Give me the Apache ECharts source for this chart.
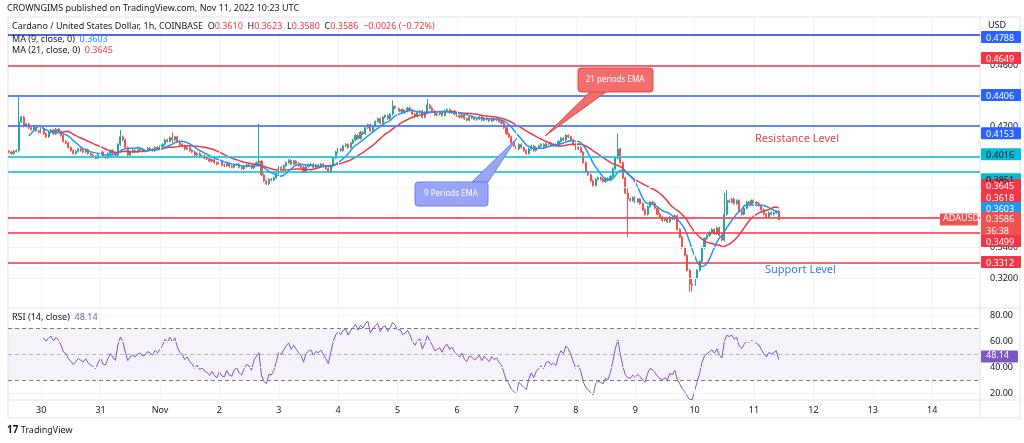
<!DOCTYPE html>
<html>
<head>
<meta charset="utf-8">
<script src="https://cdn.jsdelivr.net/npm/echarts@6/dist/echarts.min.js"></script>
<style>
html,body{margin:0;padding:0;background:#fff;}
#chart{width:1024px;height:443px;}
</style>
</head>
<body>
<div id="chart"></div>
<script>
// hourly closes, first candle = Oct 29 11:00 (x = hours from Oct 30 00:00)
var firstHour = -13;
var firstOpen = 0.4035;
var closes = [
	0.4030,0.4020,0.4035,0.4040,
	0.4230,
	0.4260,0.4200,0.4215,
	0.4190,0.4180,0.4200,0.4170,
	0.4160,0.4185,0.4150,0.4130,0.4160,0.4175,0.4150,0.4180,0.4165,
	0.4140,0.4100,0.4090,0.4060,0.4040,0.4020,0.4035,
	0.4050,0.4040,0.4030,0.4045,0.4020,0.4010,
	0.4000,0.3990,0.4010,0.4030,0.4000,0.3995,0.4020,0.4040,0.4025,0.4010,
	0.4080,0.4130,0.4110,
	0.4060,0.4010,0.4030,
	0.4040,0.4030,0.4045,0.4050,0.4035,0.4040,0.4055,0.4050,0.4040,0.4060,0.4050,0.4065,
	0.4080,0.4110,0.4100,0.4125,0.4110,0.4130,0.4100,
	0.4080,0.4070,0.4050,0.4060,0.4040,0.4030,0.4010,0.4020,0.4000,0.4005,0.3990,
	0.3985,0.3970,0.3980,0.3960,0.3950,0.3965,0.3945,0.3940,0.3955,0.3935,0.3930,0.3945,0.3950,0.3930,0.3920,0.3935,0.3945,0.3940,0.3925,0.3950,0.3960,
	0.3970,
	0.3880,0.3840,0.3820,0.3850,0.3845,0.3860,
	0.3890,0.3930,0.3920,0.3940,
	0.3960,0.3975,0.3950,0.3970,0.3955,
	0.3940,0.3930,0.3900,0.3935,0.3945,0.3950,0.3930,0.3945,0.3940,0.3950,0.3935,0.3920,0.3900,0.3940,
	0.3990,0.4030,0.4050,0.4040,0.4070,0.4080,0.4060,0.4090,
	0.4110,0.4140,0.4120,0.4160,0.4150,0.4190,0.4210,0.4170,0.4200,
	0.4230,0.4250,0.4220,0.4260,0.4270,0.4250,0.4280,
	0.4330,0.4320,0.4300,0.4310,0.4290,0.4300,0.4320,0.4305,
	0.4280,0.4265,0.4290,0.4300,0.4260,0.4290,
	0.4340,0.4320,0.4300,
	0.4275,0.4280,0.4290,0.4270,0.4300,0.4310,0.4290,0.4300,
	0.4280,0.4270,0.4260,0.4275,0.4250,0.4240,0.4260,0.4255,0.4245,0.4250,0.4260,0.4240,0.4255,0.4245,0.4235,0.4250,0.4240,0.4245,0.4230,0.4220,
	0.4190,0.4150,0.4130,0.4090,
	0.4070,0.4050,0.4080,0.4060,0.4040,0.4020,0.4050,0.4070,0.4040,0.4060,
	0.4070,0.4080,0.4065,0.4085,0.4090,0.4075,0.4080,0.4070,0.4100,0.4120,0.4110,0.4140,0.4130,0.4110,
	0.4080,0.4050,0.4060,0.4030,
	0.3960,0.3900,0.3880,
	0.3840,0.3810,0.3850,0.3860,0.3850,0.3835,0.3855,0.3845,0.3870,
	0.3920,0.3990,0.4050,
	0.3960,0.3860,0.3760,0.3720,
	0.3710,0.3730,0.3700,0.3720,0.3690,
	0.3650,0.3620,0.3670,0.3700,0.3690,0.3660,0.3620,0.3600,
	0.3580,0.3590,0.3570,0.3600,0.3590,0.3610,
	0.3520,0.3470,0.3400,0.3350,0.3250,0.3160,0.3150,
	0.3200,0.3250,0.3310,
	0.3400,0.3460,0.3480,0.3500,0.3520,0.3490,0.3530,
	0.3480,0.3450,
	0.3620,0.3710,
	0.3700,0.3720,0.3690,0.3710,
	0.3640,0.3620,
	0.3660,0.3700,0.3690,0.3710,0.3700,0.3690,0.3680,
	0.3650,0.3620,0.3600,0.3630,0.3620,
	0.3630,0.3640,0.3586
];
// long wicks: [candle index, high, low]
var spikes = [
	[4, 0.4406, 0.4030], [45, 0.4175, 0.4070], [66, 0.4160, 0.4090],
	[101, 0.4218, 0.3945], [155, 0.4370, 0.4270], [169, 0.4380, 0.4280],
	[246, 0.4153, 0.3980], [250, 0.3790, 0.3470], [275, 0.3260, 0.3110],
	[276, 0.3200, 0.3110], [289, 0.3760, 0.3440], [290, 0.3780, 0.3610]
];
var wick = 0.0008;

var levelLines = [
	[0.4828, '#f23645'], [0.4788, '#2962ff'], [0.4649, '#f23645'], [0.4406, '#2962ff'],
	[0.4153, '#2962ff'], [0.4016, '#00bcd4'], [0.3851, '#00bcd4'], [0.3618, '#f23645'],
	[0.3499, '#f23645'], [0.3312, '#f23645']
];
// price tags on the right scale: text, price where the tag sits, background, text colour
var priceTags = [
	['0.4788', 0.4788, '#2962ff', '#fff'], ['0.4649', 0.4649, '#f23645', '#fff'],
	['0.4406', 0.4406, '#2962ff', '#fff'], ['0.4153', 0.4153, '#2962ff', '#fff'],
	['0.4016', 0.4016, '#00bcd4', '#131722'], ['0.3851', 0.3851, '#00bcd4', '#131722'],
	['0.3645', 0.3813, '#f23645', '#fff'], ['0.3618', 0.3734, '#f23645', '#fff'],
	['0.3603', 0.3661, '#2196f3', '#fff'], ['0.3586\n36:38', 0.3595, '#f05252', '#fff'],
	['0.3499', 0.3444, '#f23645', '#fff'], ['0.3312', 0.3305, '#f23645', '#fff']
];
var priceGrid = [0.32, 0.34, 0.36, 0.38, 0.40, 0.42, 0.44, 0.46, 0.48];
var priceLabels = [0.32, 0.34, 0.42, 0.46];
var rsiTicks = [20, 40, 60, 80];
var dayHours = [0, 24, 48, 72, 96, 120, 144, 168, 192, 216, 240, 264, 288, 312, 336, 360];
var dayLabels = ['30', '31', 'Nov', '2', '3', '4', '5', '6', '7', '8', '9', '10', '11', '12', '13', '14'];

var candles = [];
var prev = firstOpen;
closes.forEach(function(c, i){
	var hi = Math.max(prev, c) + wick, lo = Math.min(prev, c) - wick;
	spikes.forEach(function(s){ if(s[0] === i){ hi = s[1]; lo = s[2]; } });
	candles.push([firstHour + i, prev, c, lo, hi]);
	prev = c;
});

function movingAvg(n){
	var out = [];
	for(var i = n - 1; i < closes.length; i++){
		var s = 0;
		for(var j = i - n + 1; j <= i; j++) s += closes[j];
		out.push([firstHour + i, s / n]);
	}
	return out;
}
function rsi(n){
	var out = [], ag = 0, al = 0;
	for(var i = 1; i < closes.length; i++){
		var d = closes[i] - closes[i-1];
		var g = d > 0 ? d : 0, l = d < 0 ? -d : 0;
		if(i <= n){
			ag += g / n; al += l / n;
			if(i < n) continue;
		}else{
			ag = (ag * (n - 1) + g) / n; al = (al * (n - 1) + l) / n;
		}
		out.push([firstHour + i, al === 0 ? 100 : 100 - 100 / (1 + ag / al)]);
	}
	return out;
}

var font = 'Noto Sans';
var gridColor = '#f0f3fa';
var xMin = -13.4, xMax = 379.3;

var chart = echarts.init(document.getElementById('chart'));
var option = {
	animation: false,
	textStyle: {fontFamily: font},
	grid: [
		{left: 8, top: 17, width: 972, height: 291},
		{left: 8, top: 308, width: 972, height: 92}
	],
	xAxis: [
		{type: 'value', gridIndex: 0, min: xMin, max: xMax, axisLine: {show: false}, axisTick: {show: false}, axisLabel: {show: false}, splitLine: {show: false}},
		{type: 'value', gridIndex: 1, min: xMin, max: xMax, axisLine: {show: false}, axisTick: {show: false}, splitLine: {show: false},
			axisLabel: {customValues: dayHours, color: '#131722', fontSize: 9, margin: 6,
				formatter: function(v){ return dayLabels[dayHours.indexOf(v)]; }}}
	],
	yAxis: [
		{type: 'value', gridIndex: 0, position: 'right', min: 0.3002, max: 0.4920, axisLine: {show: false}, axisTick: {show: false}, splitLine: {show: false},
			axisLabel: {customValues: priceLabels, color: '#131722', fontSize: 9, margin: 10, formatter: function(v){ return v.toFixed(4); }}},
		{type: 'value', gridIndex: 1, position: 'right', min: 14.6, max: 85.4, axisLine: {show: false}, axisTick: {show: false}, splitLine: {show: false},
			axisLabel: {customValues: rsiTicks, color: '#131722', fontSize: 9, margin: 10, formatter: function(v){ return v.toFixed(2); }}}
	],
	series: [
		{type: 'line', xAxisIndex: 0, yAxisIndex: 0, data: [], silent: true,
			markLine: {symbol: 'none', silent: true, label: {show: false}, lineStyle: {color: gridColor, width: 1, type: 'solid'},
				data: priceGrid.map(function(v){ return {yAxis: v}; }).concat(dayHours.map(function(v){ return {xAxis: v}; }))}},
		{type: 'line', xAxisIndex: 1, yAxisIndex: 1, data: [], silent: true,
			markLine: {symbol: 'none', silent: true, label: {show: false}, lineStyle: {color: gridColor, width: 1, type: 'solid'},
				data: rsiTicks.map(function(v){ return {yAxis: v}; }).concat(dayHours.map(function(v){ return {xAxis: v}; }))}},
		{type: 'candlestick', xAxisIndex: 0, yAxisIndex: 0, data: candles, barWidth: 1.6,
			itemStyle: {color: '#26a69a', color0: '#ef5350', borderColor: '#26a69a', borderColor0: '#ef5350', borderWidth: 1},
			markLine: {symbol: 'none', silent: true, label: {show: false},
				data: levelLines.map(function(l){ return {yAxis: l[0], lineStyle: {color: l[1], width: 1.5, type: 'solid'}}; })
					.concat([{yAxis: 0.3586, lineStyle: {color: '#ef5350', width: 1, type: 'dotted'}}])}},
		{type: 'line', xAxisIndex: 0, yAxisIndex: 0, data: movingAvg(21), showSymbol: false, lineStyle: {color: '#f23645', width: 1.5}},
		{type: 'line', xAxisIndex: 0, yAxisIndex: 0, data: movingAvg(9), showSymbol: false, lineStyle: {color: '#2196f3', width: 1.5}},
		{type: 'line', xAxisIndex: 1, yAxisIndex: 1, data: rsi(14), showSymbol: false, lineStyle: {color: '#7e57c2', width: 1},
			markArea: {silent: true, itemStyle: {color: 'rgba(126,87,194,0.08)'}, data: [[{yAxis: 30}, {yAxis: 70}]]},
			markLine: {symbol: 'none', silent: true, label: {show: false},
				data: [{yAxis: 70, lineStyle: {color: '#787b86', type: [4, 3], width: 1}},
					{yAxis: 50, lineStyle: {color: 'rgba(120,123,134,0.5)', type: [4, 3], width: 1}},
					{yAxis: 30, lineStyle: {color: '#787b86', type: [4, 3], width: 1}}]}}
	]
};
chart.setOption(option);

var g = [];
// frame
g.push({type: 'rect', shape: {x: 8, y: 17, width: 1012, height: 401}, style: {fill: 'none', stroke: '#e0e3eb', lineWidth: 1}, z: 1});
g.push({type: 'line', shape: {x1: 980, y1: 17, x2: 980, y2: 418}, style: {stroke: '#e0e3eb'}, z: 1});
g.push({type: 'line', shape: {x1: 8, y1: 308, x2: 1020, y2: 308}, style: {stroke: '#e0e3eb'}, z: 1});
g.push({type: 'line', shape: {x1: 8, y1: 400, x2: 1020, y2: 400}, style: {stroke: '#e0e3eb'}, z: 1});
// price tags
priceTags.forEach(function(t){
	var y = chart.convertToPixel({yAxisIndex: 0}, t[1]);
	var two = t[0].indexOf('\n') > 0;
	g.push({type: 'rect', shape: {x: 981, y: y - 6, width: 40, height: two ? 24 : 12, r: 1}, style: {fill: t[2]}, z: 50});
	g.push({type: 'text', x: 986, y: y - 5, style: {text: t[0], fill: t[3], font: '9px ' + font, lineHeight: 12}, z: 51});
});
var yc = chart.convertToPixel({yAxisIndex: 0}, 0.3586);
g.push({type: 'rect', shape: {x: 940, y: yc - 6, width: 38, height: 12, r: 1}, style: {fill: '#f05252'}, z: 50});
g.push({type: 'text', x: 943, y: yc - 5, style: {text: 'ADAUSD', fill: '#fff', font: '9px ' + font}, z: 51});
var yr = chart.convertToPixel({yAxisIndex: 1}, 48.14);
g.push({type: 'rect', shape: {x: 981, y: yr - 6, width: 37, height: 12, r: 1}, style: {fill: '#7e57c2'}, z: 50});
g.push({type: 'text', x: 986, y: yr - 5, style: {text: '48.14', fill: '#fff', font: '9px ' + font}, z: 51});
g.push({type: 'rect', shape: {x: 981, y: 18, width: 38, height: 14}, style: {fill: '#fff'}, z: 49});
g.push({type: 'text', x: 988, y: 21, style: {text: 'USD', fill: '#131722', font: '9px ' + font}, z: 51});
// header and legends
g.push({type: 'text', x: 7, y: 4, style: {text: 'CROWNGIMS published on TradingView.com, Nov 11, 2022 10:23 UTC', fill: '#131722', font: '9px ' + font}, z: 60});
g.push({type: 'text', x: 12, y: 22, z: 60, style: {text: '{b|Cardano / United States Dollar, 1h, COINBASE  O}{r|0.3610}{b|  H}{r|0.3623}{b|  L}{r|0.3580}{b|  C}{r|0.3586}{r|  −0.0026 (−0.72%)}',
	rich: {b: {fill: '#131722', font: '9px ' + font}, r: {fill: '#f23645', font: '9px ' + font}}}});
g.push({type: 'text', x: 12, y: 35, z: 60, style: {text: '{b|MA (9, close, 0)  }{c|0.3603}', rich: {b: {fill: '#131722', font: '9px ' + font}, c: {fill: '#2196f3', font: '9px ' + font}}}});
g.push({type: 'text', x: 12, y: 46, z: 60, style: {text: '{b|MA (21, close, 0)  }{c|0.3645}', rich: {b: {fill: '#131722', font: '9px ' + font}, c: {fill: '#f23645', font: '9px ' + font}}}});
g.push({type: 'text', x: 12, y: 313, z: 60, style: {text: '{b|RSI (14, close)  }{c|48.14}', rich: {b: {fill: '#131722', font: '9px ' + font}, c: {fill: '#7e57c2', font: '9px ' + font}}}});
// text annotations
g.push({type: 'text', x: 755, y: 133, z: 60, style: {text: 'Resistance Level', fill: '#e0474c', font: '11px ' + font}});
g.push({type: 'text', x: 765, y: 264, z: 60, style: {text: 'Support Level', fill: '#3179f5', font: '11px ' + font}});
g.push({type: 'polygon', z: 60, shape: {points: [[590, 92], [606, 92], [545, 136]]}, style: {fill: '#f26d6d', stroke: '#e04848'}});
g.push({type: 'rect', z: 61, shape: {x: 578, y: 68, width: 75, height: 24, r: 3}, style: {fill: '#f26d6d', stroke: '#e04848'}});
g.push({type: 'text', z: 62, x: 615, y: 80, style: {text: '21 periods EMA', fill: '#fff', font: '8px ' + font, align: 'center', verticalAlign: 'middle'}});
g.push({type: 'polygon', z: 60, shape: {points: [[472, 182], [488, 182], [517, 138]]}, style: {fill: '#9aa5f7', stroke: '#6f7ff0'}});
g.push({type: 'rect', z: 61, shape: {x: 415, y: 182, width: 73, height: 24, r: 3}, style: {fill: '#9aa5f7', stroke: '#6f7ff0'}});
g.push({type: 'text', z: 62, x: 451, y: 194, style: {text: '9 Periods EMA', fill: '#fff', font: '8px ' + font, align: 'center', verticalAlign: 'middle'}});
// footer
g.push({type: 'text', x: 7, y: 425, z: 60, style: {text: '{l|17} TradingView', rich: {l: {fill: '#131722', font: 'bold 10px ' + font}}, fill: '#131722', font: '9px ' + font}});
chart.setOption({graphic: g});
</script>
</body>
</html>
